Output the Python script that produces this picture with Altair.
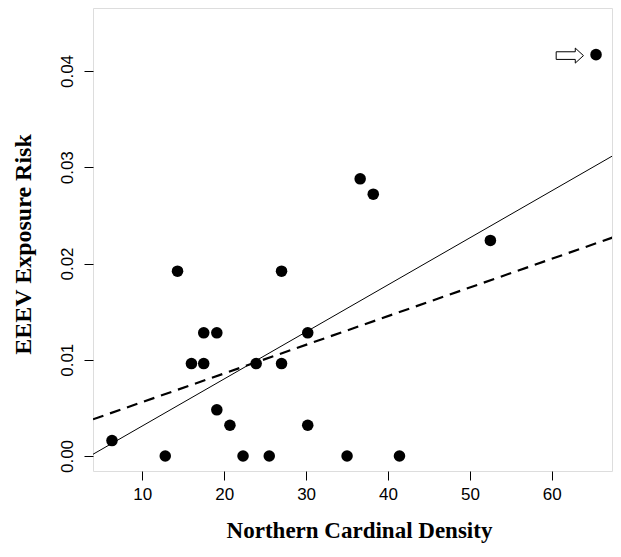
import altair as alt
import pandas as pd

# Observed points (Northern Cardinal density vs EEEV exposure risk)
density = [6.3, 12.8, 14.3, 16.0, 17.5, 17.5, 19.1, 19.1, 20.7, 22.3, 23.9,
           25.5, 27.0, 27.0, 30.2, 30.2, 35.0, 41.4, 36.6, 38.2, 52.5, 65.4]
risk = [0.0016, 0.0, 0.0192, 0.0096, 0.0096, 0.0128, 0.0128, 0.0048, 0.0032, 0.0, 0.0096,
        0.0, 0.0192, 0.0096, 0.0128, 0.0032, 0.0, 0.0, 0.0288, 0.0272, 0.0224, 0.0417]

# Fitted lines, end points read at the plot edges
solid_x = [3.98, 67.6]
solid_y = [0.00018, 0.03127]
dash_x = [3.98, 67.6]
dash_y = [0.00381, 0.02275]

# Arrow annotation pointing at the outlier
arrow_x = [62.2]
arrow_y = [0.0416]

x_ticks = [10, 20, 30, 40, 50, 60]
y_ticks = [0.0, 0.01, 0.02, 0.03, 0.04]

pts = pd.DataFrame({"x": density, "y": risk})
solid = pd.DataFrame({"x": solid_x, "y": solid_y})
dashed = pd.DataFrame({"x": dash_x, "y": dash_y})
arrow = pd.DataFrame({"x": arrow_x, "y": arrow_y})

xscale = alt.Scale(domain=[3.98, 67.35], nice=False, zero=False)
yscale = alt.Scale(domain=[-0.001558, 0.046545], nice=False, zero=False)

xaxis = alt.Axis(values=x_ticks, title="Northern Cardinal Density", tickSize=9,
                 tickColor="black", tickWidth=1, labelFont="Liberation Sans",
                 labelFontSize=17, labelColor="black", labelPadding=6, domain=False,
                 grid=False, labelFlush=False, labelOverlap=False,
                 titleFont="Liberation Serif", titleFontSize=23, titleFontWeight="bold",
                 titleColor="black", titleX=266, titleY=66, titleBaseline="alphabetic",
                 titleAlign="center")
yaxis = alt.Axis(values=y_ticks, format=".2f", title="EEEV Exposure Risk", tickSize=9,
                 tickColor="black", tickWidth=1, labelFont="Liberation Sans",
                 labelFontSize=17, labelColor="black", labelPadding=12, domain=False,
                 grid=False, labelFlush=False, labelOverlap=False, labelAngle=270,
                 labelAlign="center", labelBaseline="alphabetic",
                 titleFont="Liberation Serif", titleFontSize=24, titleFontWeight="bold",
                 titleColor="black", titleAngle=270, titleX=-63, titleY=236,
                 titleBaseline="alphabetic", titleAlign="center")

xenc = alt.X("x:Q", scale=xscale, axis=xaxis)
yenc = alt.Y("y:Q", scale=yscale, axis=yaxis)

solid_line = alt.Chart(solid).mark_line(color="black", strokeWidth=1, clip=True).encode(x=xenc, y=yenc)
dash_line = alt.Chart(dashed).mark_line(color="black", strokeWidth=2.2, strokeDash=[11, 7], clip=True).encode(x=xenc, y=yenc)
points = alt.Chart(pts).mark_circle(color="black", size=133, opacity=1).encode(x=xenc, y=yenc)
arrow_mark = alt.Chart(arrow).mark_point(
    shape="M -1 -0.28 L 0.4 -0.28 L 0.4 -0.55 L 1 0 L 0.4 0.55 L 0.4 0.28 L -1 0.28 Z",
    filled=True, fill="white", stroke="black", strokeWidth=1, size=745, opacity=1
).encode(x=xenc, y=yenc)

chart = alt.layer(solid_line, dash_line, points, arrow_mark).properties(
    width=519, height=463,
    autosize=alt.AutoSizeParams(type="none"),
    padding={"left": 85, "top": 0, "right": 1, "bottom": 73},
).configure_view(stroke="black", strokeWidth=1).configure(background="white")

chart.save("out.html", embed_options={"renderer": "svg", "actions": False})
